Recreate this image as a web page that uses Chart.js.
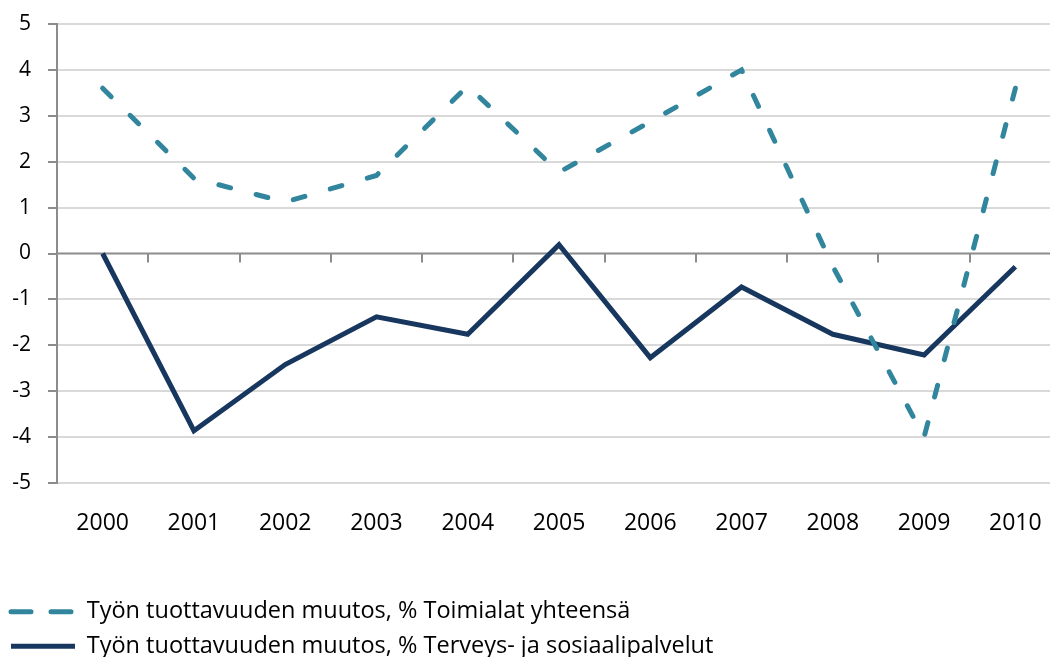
<!DOCTYPE html>
<html>
<head>
<meta charset="utf-8">
<script src="https://cdn.jsdelivr.net/npm/chart.js@4.4.1/dist/chart.umd.min.js"></script>
<style>
    body { margin: 0; background: #fff; }
    #wrap { width: 1050px; height: 657px; overflow: hidden; }
</style>
</head>
<body>
<div id="wrap">
    <canvas id="productivityChart" width="1064" height="668"></canvas>
</div>
<script>
// categories
const years = ['2000', '2001', '2002', '2003', '2004', '2005', '2006', '2007', '2008', '2009', '2010'];
// series values
const toimialatYhteensa = [3.6, 1.64, 1.12, 1.7, 3.65, 1.77, 2.87, 4.0, -0.28, -4.0, 3.6];
const terveysJaSosiaali = [0, -3.86, -2.42, -1.38, -1.76, 0.19, -2.27, -0.73, -1.76, -2.21, -0.29];
// y axis
const yMin = -5;
const yMax = 5;
const yStep = 1;

const seriesLabels = [
    'Työn tuottavuuden muutos, % Toimialat yhteensä',
    'Työn tuottavuuden muutos, % Terveys- ja sosiaalipalvelut'
];

const axisGray = '#8c8c8c';
const gridGray = '#d9d9d9';

// zero line tick marks between categories (x axis sits at y = 0)
const zeroAxisTicks = {
    id: 'zeroAxisTicks',
    beforeDatasetsDraw(chart) {
        const ctx = chart.ctx;
        const xScale = chart.scales.x;
        const yScale = chart.scales.y;
        const y0 = yScale.getPixelForValue(0);
        ctx.save();
        ctx.strokeStyle = axisGray;
        ctx.lineWidth = 2;
        ctx.beginPath();
        ctx.moveTo(chart.chartArea.left, y0);
        ctx.lineTo(chart.chartArea.right, y0);
        for (let i = 0; i <= years.length; i++) {
            const x = Math.round(xScale.getPixelForValue(i - 0.5));
            ctx.moveTo(x, y0);
            ctx.lineTo(x, y0 + 9);
        }
        ctx.stroke();
        ctx.restore();
    }
};

const ctx = document.getElementById('productivityChart').getContext('2d');
new Chart(ctx, {
    type: 'line',
    data: {
        labels: years,
        datasets: [
            {
                label: seriesLabels[0],
                data: toimialatYhteensa,
                borderColor: '#31859c',
                backgroundColor: '#31859c',
                borderWidth: 5,
                borderDash: [12, 26.5],
                borderCapStyle: 'round',
                pointRadius: 0,
                tension: 0,
                fill: false
            },
            {
                label: seriesLabels[1],
                data: terveysJaSosiaali,
                borderColor: '#17375e',
                backgroundColor: '#17375e',
                borderWidth: 5,
                borderJoinStyle: 'miter',
                pointRadius: 0,
                tension: 0,
                fill: false
            }
        ]
    },
    options: {
        responsive: false,
        animation: false,
        layout: {
            padding: { top: 24, right: 3, left: 0, bottom: 0 }
        },
        scales: {
            x: {
                offset: true,
                grid: { display: false, drawTicks: false },
                border: { display: false },
                ticks: {
                    color: '#000',
                    padding: 27,
                    maxRotation: 0,
                    font: { family: 'Open Sans', size: 23 }
                },
                afterFit: function (scale) {
                    scale.height = 106;
                    scale.paddingLeft = 0;
                    scale.paddingRight = 0;
                }
            },
            y: {
                min: yMin,
                max: yMax,
                ticks: {
                    stepSize: yStep,
                    color: '#000',
                    padding: 17,
                    font: { family: 'Open Sans', size: 21 }
                },
                grid: {
                    color: function (c) {
                        return c.tick && c.tick.value === 0 ? 'rgba(0,0,0,0)' : gridGray;
                    },
                    lineWidth: 2,
                    tickLength: 9,
                    tickColor: axisGray
                },
                border: { color: axisGray, width: 2 },
                afterFit: function (scale) {
                    scale.width = 57;
                    // let the layout padding alone decide where the plot starts
                    scale.paddingTop = 0;
                    scale.paddingBottom = 0;
                }
            }
        },
        plugins: {
            tooltip: { enabled: false },
            legend: {
                position: 'bottom',
                align: 'start',
                labels: {
                    color: '#000',
                    usePointStyle: true,
                    pointStyle: 'line',
                    pointStyleWidth: 64,
                    padding: 11,
                    font: { family: 'Open Sans', size: 23.5 },
                    generateLabels: function (chart) {
                        const items = Chart.defaults.plugins.legend.labels.generateLabels(chart);
                        items[0].lineDash = [20, 20];
                        items[0].lineCap = 'round';
                        return items;
                    }
                }
            }
        }
    },
    plugins: [zeroAxisTicks]
});
</script>
</body>
</html>
